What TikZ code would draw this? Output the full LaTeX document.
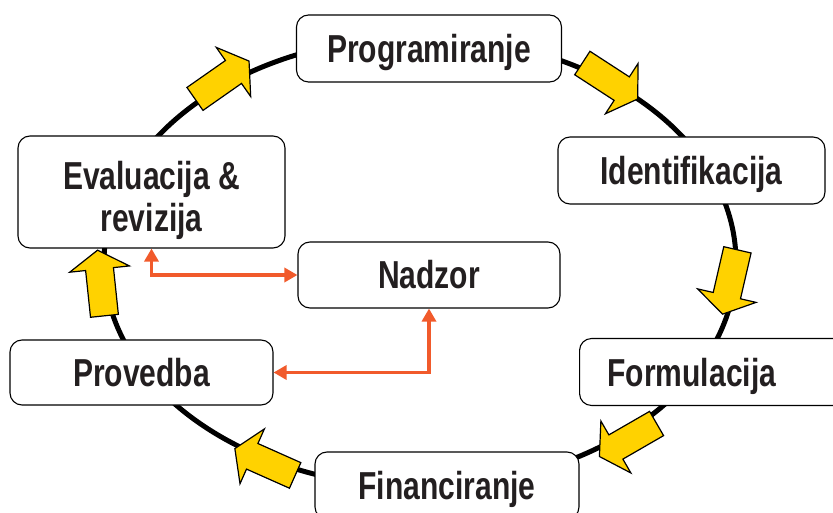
\documentclass[tikz,border=0pt]{standalone}
\usepackage{fontspec}
\usepackage{tikz}
\usetikzlibrary{arrows.meta}
\usepackage{xcolor}

\newfontfamily\stagefont[FakeStretch=0.77]{Liberation Sans}
\definecolor{arrowyellow}{HTML}{FFD200}
\definecolor{linkred}{HTML}{F15A2B}
\definecolor{textgray}{HTML}{231F20}

\tikzset{
  stage/.style={draw=black, line width=1.1pt, rounded corners=12pt, fill=white,
    minimum width=265pt, minimum height=67pt, inner sep=0pt,
    text height=28pt, text depth=0pt, text=textgray,
    font=\stagefont\bfseries\fontsize{39}{42}\selectfont},
  link/.style={draw=linkred, line width=3.5pt,
    {Triangle[length=13pt,width=14pt]}-{Triangle[length=13pt,width=14pt]}}
}

% yellow block arrow: centre, angle
\newcommand{\cyclearrow}[2]{%
  \draw[fill=arrowyellow, line width=1.2pt, line join=miter, shift={#1}, rotate=#2]
    (-33,-14) -- (14,-14) -- (14,-30) -- (33,0) -- (14,30) -- (14,14) -- (-33,14) -- cycle;}

\begin{document}
\begin{tikzpicture}[x=1pt,y=1pt]
  \useasboundingbox (0,0) rectangle (833,512);

  \draw[line width=5pt] (420,250) ellipse [x radius=316pt, y radius=225pt];

  \node[stage] (prog) at (429,463.5) {Programiranje};
  \node[stage, minimum width=267pt] (ident) at (691.5,341.5) {Identifikacija};
  \node[stage, anchor=west, text width=237pt, inner xsep=28pt, align=left] (form) at (579,140) {Formulacija};
  \node[stage, minimum width=264pt] (fin) at (447,26.5) {Financiranje};
  \node[stage, minimum width=263pt, minimum height=65pt] (prov) at (141.5,139.5) {Provedba};
  \node[stage, minimum width=262pt, minimum height=66pt] (nadzor) at (429,237) {Nadzor};
  \node[stage, minimum width=267pt, minimum height=112pt, align=center,
        text height=80pt, text depth=0pt] (eval) at (151.5,320) {Evaluacija \&\\revizija};

  \cyclearrow{(222,432)}{35}
  \cyclearrow{(610,431)}{-33}
  \cyclearrow{(730,230)}{-103}
  \cyclearrow{(628,72)}{-150}
  \cyclearrow{(265,50)}{156}
  \cyclearrow{(101,229)}{96}

  \draw[link] (eval.south) |- (nadzor.west);
  \draw[link] (nadzor.south) |- (prov.east);
\end{tikzpicture}
\end{document}
